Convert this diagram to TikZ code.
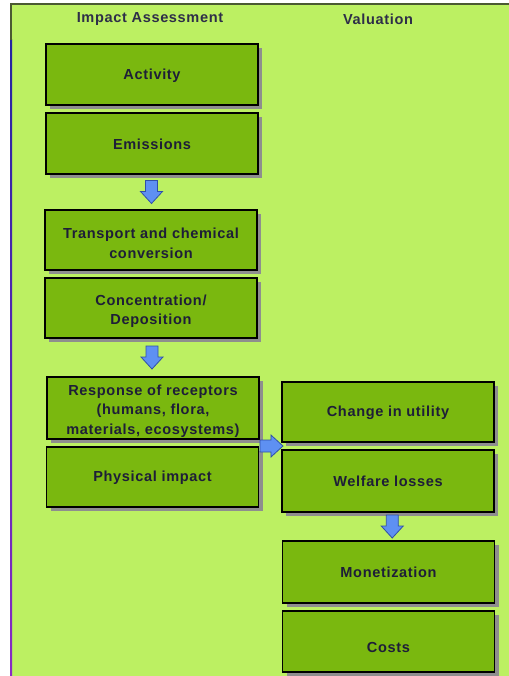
\documentclass[tikz,border=0pt]{standalone}
\usepackage{fontspec}
\setmainfont{Liberation Sans}[LetterSpace=4.5]
\usetikzlibrary{calc}
\definecolor{pagebg}{HTML}{BCF062}
\definecolor{boxfill}{HTML}{7AB80F}
\definecolor{shadowgrey}{HTML}{8E8E8E}
\definecolor{textdark}{HTML}{1E1E38}
\definecolor{titletext}{HTML}{2E2E48}
\definecolor{arrowfill}{HTML}{5E90F2}
\definecolor{arrowedge}{HTML}{3050A8}
\definecolor{frametop}{HTML}{4B5A32}
\definecolor{frameside}{HTML}{2424A0}
\definecolor{framelow}{HTML}{8A2CC4}
\tikzset{
  stage/.style={draw=black, line width=1.4bp, fill=boxfill, rectangle,
    inner sep=0pt, minimum width=212bp, minimum height=61bp},
  stagetext/.style={align=center, text=textdark, inner sep=0pt,
    font=\fontsize{14.6}{19.5}\selectfont\bfseries},
  shade box/.style={fill=shadowgrey},
  heading/.style={text=titletext, font=\fontsize{14.6}{18}\selectfont\bfseries},
  flow/.style={draw=arrowedge, fill=arrowfill, line width=0.8bp, line join=miter},
}
% #1 name, #2 x, #3 y, #4 height, #5 text shift, #6 text
\newcommand{\stagebox}[6]{%
  \fill[shade box] (#2-106+4,#3-#4/2+4) rectangle (#2+106+4,#3+#4/2+4);
  \node[stage, minimum height=#4 bp] (#1) at (#2,#3) {};
  \node[stagetext] (#1-t) at ($(#1.center)+(0,#5)$) {#6};
}
% block arrow pointing down, centred on a coordinate
\newcommand{\downflow}[1]{%
  \draw[flow] ($(#1)+(-6,-11.5)$) -- ($(#1)+(6,-11.5)$) -- ($(#1)+(6,-0.5)$)
    -- ($(#1)+(11,-0.5)$) -- ($(#1)+(0,11.5)$) -- ($(#1)+(-11,-0.5)$)
    -- ($(#1)+(-6,-0.5)$) -- cycle;
}
% block arrow pointing right, centred on a coordinate
\newcommand{\rightflow}[1]{%
  \draw[flow] ($(#1)+(-11.5,-6)$) -- ($(#1)+(-0.5,-6)$) -- ($(#1)+(-0.5,-11)$)
    -- ($(#1)+(11.5,0)$) -- ($(#1)+(-0.5,11)$) -- ($(#1)+(-0.5,6)$)
    -- ($(#1)+(-11.5,6)$) -- cycle;
}
\begin{document}
\begin{tikzpicture}[x=1bp,y=-1bp]
  \useasboundingbox (0,0) rectangle (509,676);
  % page background and frame
  \fill[white] (0,0) rectangle (509,676);
  \fill[pagebg] (11,4) rectangle (509,676);
  \draw[frametop, line width=2bp] (10,4) -- (509,4);
  \shade[top color=frameside, bottom color=framelow] (10,40) rectangle (12,676);
  \fill[frametop] (10,3) rectangle (12,40);

  % column headings
  \node[heading] (hImpact) at (150,19.5) {Impact Assessment};
  \node[heading] (hValue) at (378,19.5) {Valuation};

  % impact assessment column
  \stagebox{act}{152}{74.5}{61}{1}{Activity}
  \stagebox{emis}{152}{143.5}{61}{1}{Emissions}
  \stagebox{trans}{151}{240}{60}{3.5}{Transport and chemical\\conversion}
  \stagebox{conc}{151}{308}{60}{3.5}{Concentration/\\Deposition}
  \stagebox{resp}{153}{408}{62}{3}{Response of receptors\\(humans, flora,\\materials, ecosystems)}
  \stagebox{phys}{152.5}{477}{60}{1}{Physical impact}

  % valuation column
  \stagebox{util}{388}{412}{60}{1}{Change in utility}
  \stagebox{welf}{388}{481}{62}{0}{Welfare losses}
  \stagebox{mon}{388.5}{572}{62}{0}{Monetization}
  \stagebox{costs}{388.5}{641.5}{61}{5.5}{Costs}

  % block arrows between stages
  \coordinate (m1) at ($(emis.south)!0.5!(trans.north)$);
  \coordinate (m2) at ($(conc.south)!0.5!(resp.north)$);
  \coordinate (m3) at ($(resp.south east)!0.5!(phys.north east)+(12,3)$);
  \coordinate (m4) at ($(welf.south)!0.5!(mon.north)+(4,0)$);
  \downflow{m1}
  \downflow{m2}
  \rightflow{m3}
  \downflow{m4}
\end{tikzpicture}
\end{document}
